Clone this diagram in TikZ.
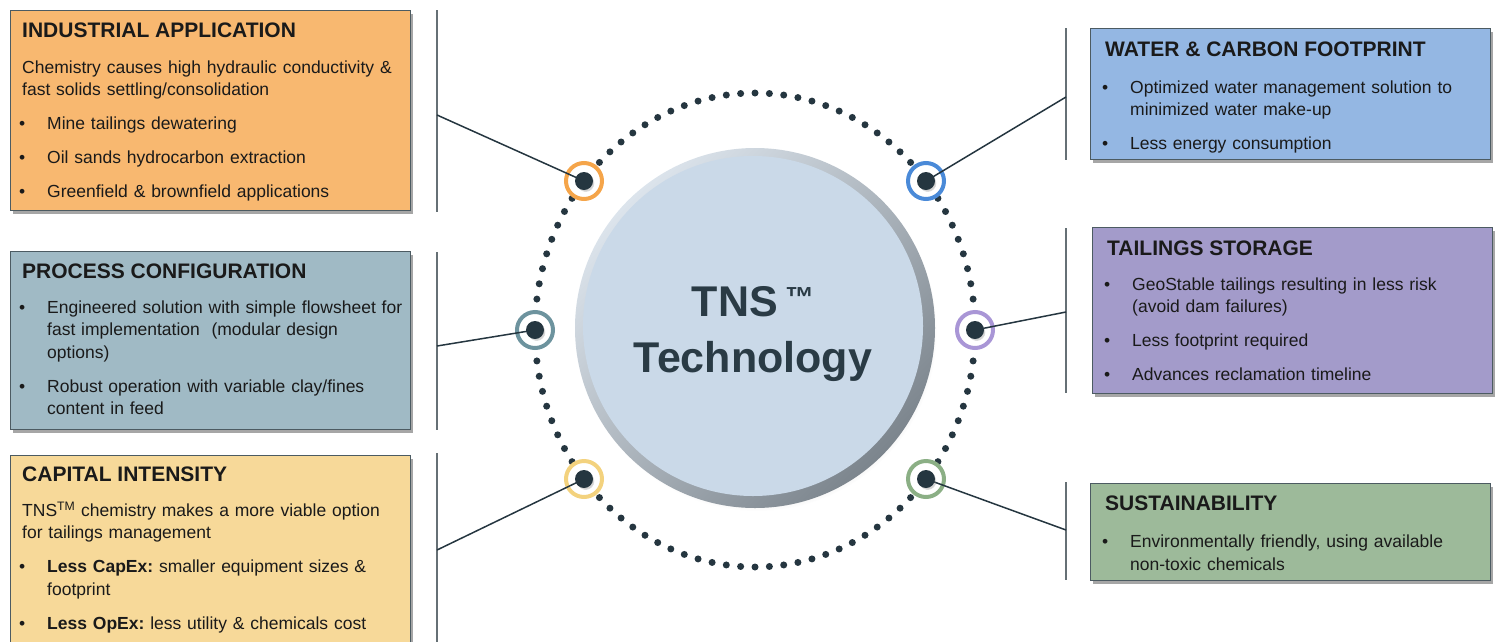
\documentclass[tikz,border=0pt]{standalone}
\usepackage{fontspec}
\setmainfont{Liberation Sans}
\usetikzlibrary{shadows,positioning}

\setlength{\parindent}{0pt}
\frenchspacing

\definecolor{ink}{HTML}{1A1A1A}
\definecolor{cardedge}{HTML}{4C5B62}
\definecolor{barline}{HTML}{667075}
\definecolor{pindot}{HTML}{253640}
\definecolor{hubink}{HTML}{2A3B45}
\definecolor{hubface}{HTML}{CAD9E8}
\definecolor{rimlt}{HTML}{DCE4EC}
\definecolor{rimdk}{HTML}{7C858D}
\definecolor{indfill}{HTML}{F8B870}
\definecolor{procfill}{HTML}{A0BAC5}
\definecolor{capfill}{HTML}{F7D999}
\definecolor{waterfill}{HTML}{94B7E3}
\definecolor{storfill}{HTML}{A39BCA}
\definecolor{sustfill}{HTML}{9DBA9A}
\definecolor{indring}{HTML}{F5A54A}
\definecolor{procring}{HTML}{6D939E}
\definecolor{capring}{HTML}{F3D27E}
\definecolor{waterring}{HTML}{4A8AD8}
\definecolor{storring}{HTML}{A996D6}
\definecolor{sustring}{HTML}{8BAF85}

% box title and bullet lines
\newcommand{\boxhead}[2][12.7pt]{{\bfseries\fontsize{21}{22}\selectfont #2\par}\vspace{#1}}
\newcommand{\bitem}[1]{\par\hangindent=25pt\hangafter=1\noindent\hspace*{-3pt}\makebox[28pt][l]{\textbullet}#1\par\vspace{11.7pt}}

\begin{document}
\frenchspacing
\begin{tikzpicture}[x=1pt,y=-1pt,
    card/.style={draw=cardedge,line width=1.4pt,anchor=north west,inner sep=0pt,
      drop shadow={shadow xshift=2.5pt,shadow yshift=-3pt,fill=black,opacity=.35}},
    txt/.style={anchor=base west,inner sep=0pt,text width=385pt,align=left,
      font=\fontsize{17.5}{22.3}\selectfont,text=ink},
    bar/.style={draw=barline,line width=1.8pt},
    link/.style={draw=pindot,line width=1.5pt},
    ring/.style={circle,draw=#1,line width=4pt,fill=white,minimum size=36,inner sep=0pt},
    pin/.style={circle,fill=pindot,minimum size=18,inner sep=0pt,
      circular drop shadow={shadow xshift=1.5pt,shadow yshift=-2pt,shadow scale=1,opacity=.35}}]
  \useasboundingbox (0,0) rectangle (1497,641);
  \clip (0,0) rectangle (1497,641);

  % boxes
  \node (indbox) [card,fill=indfill,minimum width=400,minimum height=200] at (10,10) {};
  \node (procbox) [card,fill=procfill,minimum width=400,minimum height=178] at (10,251) {};
  \node (capbox) [card,fill=capfill,minimum width=400,minimum height=210] at (10,455) {};
  \node (waterbox) [card,fill=waterfill,minimum width=400,minimum height=131] at (1090,28) {};
  \node (storbox) [card,fill=storfill,minimum width=400,minimum height=166] at (1092,227) {};
  \node (sustbox) [card,fill=sustfill,minimum width=400,minimum height=97] at (1090,483) {};

  \node (indtxt) [txt] at ([shift={(12,27)}]indbox.north west) {%
    \boxhead[13.7pt]{INDUSTRIAL APPLICATION}
    Chemistry causes high hydraulic conductivity \&\newline fast solids settling/consolidation\par\vspace{11.7pt}
    \bitem{Mine tailings dewatering}
    \bitem{Oil sands hydrocarbon extraction}
    \bitem{Greenfield \& brownfield applications}};
  \node (proctxt) [txt] at ([shift={(12,27.5)}]procbox.north west) {%
    \boxhead{PROCESS CONFIGURATION}
    \bitem{Engineered solution with simple flowsheet for\newline fast implementation\ \ (modular design\newline options)}
    \bitem{Robust operation with variable clay/fines\newline content in feed}};
  \node (captxt) [txt] at ([shift={(12,26.5)}]capbox.north west) {%
    \boxhead{CAPITAL INTENSITY}
    TNS\textsuperscript{TM} chemistry makes a more viable option\newline for tailings management\par\vspace{11.7pt}
    \bitem{\textbf{Less CapEx:} smaller equipment sizes \&\newline footprint}
    \bitem{\textbf{Less OpEx:} less utility \& chemicals cost}};
  \node (watertxt) [txt] at ([shift={(15,28)}]waterbox.north west) {%
    \boxhead[14.7pt]{WATER \& CARBON FOOTPRINT}
    \bitem{Optimized water management solution to\newline minimized water make-up}
    \bitem{Less energy consumption}};
  \node (stortxt) [txt] at ([shift={(15,28.5)}]storbox.north west) {%
    \boxhead{TAILINGS STORAGE}
    \bitem{GeoStable tailings resulting in less risk\newline (avoid dam failures)}
    \bitem{Less footprint required}
    \bitem{Advances reclamation timeline}};
  \node (susttxt) [txt] at ([shift={(15,27.5)}]sustbox.north west) {%
    \boxhead[15pt]{SUSTAINABILITY}
    \bitem{Environmentally friendly, using available\newline non-toxic chemicals}};

  % side bars
  \draw[bar] (437,10) -- (437,212);
  \draw[bar] (437,252) -- (437,430);
  \draw[bar] (437,453) -- (437,650);
  \draw[bar] (1066,28) -- (1066,160);
  \draw[bar] (1066,228) -- (1066,393);
  \draw[bar] (1066,482) -- (1066,580);
  \coordinate (indjoin) at (437,115);
  \coordinate (procjoin) at (437,346);
  \coordinate (capjoin) at (437,550);
  \coordinate (waterjoin) at (1066,97);
  \coordinate (storjoin) at (1066,312);
  \coordinate (sustjoin) at (1066,530);

  % hub
  \foreach \a in {0,3.75,...,356}
    \fill[pindot] ({755+220*cos(\a)},{330+237*sin(\a)}) circle (3.5);
  \node (hub) [circle,minimum size=360,inner sep=0pt,shading=axis,top color=rimlt,
    bottom color=rimdk,shading angle=45,
    circular drop shadow={shadow xshift=2pt,shadow yshift=-3pt,shadow scale=1,opacity=.3}] at (755,328) {};
  \node (face) [circle,minimum size=340,inner sep=0pt,fill=hubface] at (753,326) {};
  \node (hubtxt) [align=center,text=hubink,inner sep=0pt,
    font=\bfseries\fontsize{43}{56}\selectfont] at (753,334)
    {TNS\,\raisebox{9pt}{\fontsize{29}{29}\selectfont ™}\\Technology};

  % rings and links
  \node (indpin) [ring=indring] at (584,181) {};
  \node (procpin) [ring=procring] at (535,330) {};
  \node (cappin) [ring=capring] at (584,479) {};
  \node (waterpin) [ring=waterring] at (926,181) {};
  \node (storpin) [ring=storring] at (975,330) {};
  \node (sustpin) [ring=sustring] at (926,479) {};
  \foreach \p in {ind,proc,cap,water,stor,sust}
    \draw[link] (\p pin.center) -- (\p join);
  \foreach \p in {ind,proc,cap,water,stor,sust}
    \node[pin] at (\p pin) {};
\end{tikzpicture}
\end{document}
